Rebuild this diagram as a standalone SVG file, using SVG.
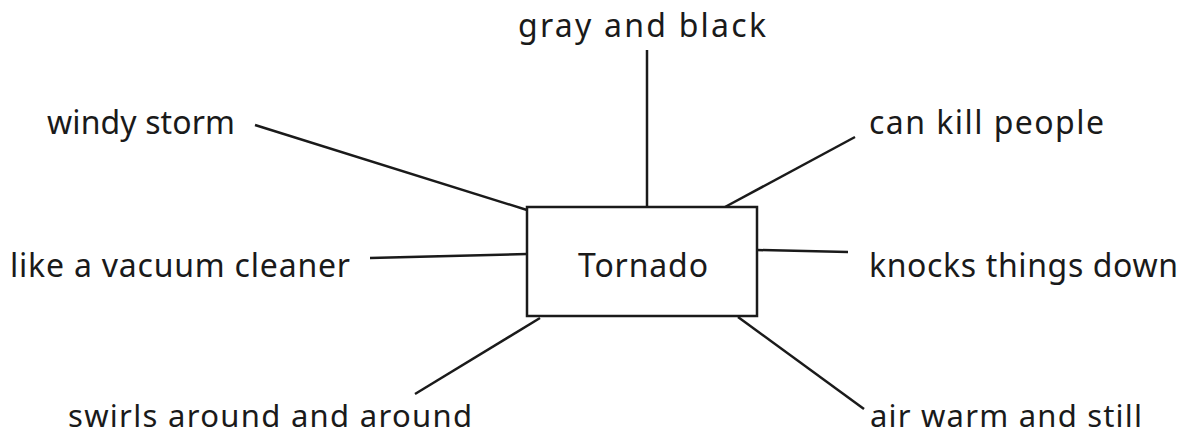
<svg xmlns="http://www.w3.org/2000/svg" width="1187" height="437" viewBox="0 0 1187 437">
<style>
.lbl{font-family:"Noto Sans","Liberation Sans",sans-serif;font-size:32px;fill:#1a1a1a}
.low{font-size:31px}
.box{fill:#ffffff;stroke:#1a1a1a;stroke-width:2.5}
.conn line{stroke:#1a1a1a;stroke-width:2.5;fill:none}
</style>
<rect width="1187" height="437" fill="#ffffff"/>
<g id="connectors" class="conn">
<line x1="647" y1="50" x2="647" y2="207"/>
<line x1="255" y1="125" x2="527" y2="210"/>
<line x1="370" y1="258" x2="527" y2="254"/>
<line x1="855" y1="137" x2="725" y2="207"/>
<line x1="757" y1="250" x2="848" y2="252"/>
<line x1="540" y1="318" x2="415" y2="394"/>
<line x1="738" y1="317" x2="864" y2="409"/>
</g>
<g id="node-tornado">
<rect class="box" x="527" y="207" width="230" height="109"/>
<text class="lbl" x="578" y="277" textLength="130">Tornado</text>
</g>
<g id="node-gray"><text class="lbl" x="518" y="37" textLength="248">gray and black</text></g>
<g id="node-windy"><text class="lbl" x="47" y="134" textLength="188">windy storm</text></g>
<g id="node-vacuum"><text class="lbl" x="10" y="277" textLength="340">like a vacuum cleaner</text></g>
<g id="node-kill"><text class="lbl" x="869" y="134" textLength="235">can kill people</text></g>
<g id="node-knocks"><text class="lbl" x="869" y="277" textLength="309">knocks things down</text></g>
<g id="node-swirls"><text class="lbl low" x="68" y="427" textLength="404">swirls around and around</text></g>
<g id="node-air"><text class="lbl low" x="870" y="427" textLength="272">air warm and still</text></g>
</svg>
